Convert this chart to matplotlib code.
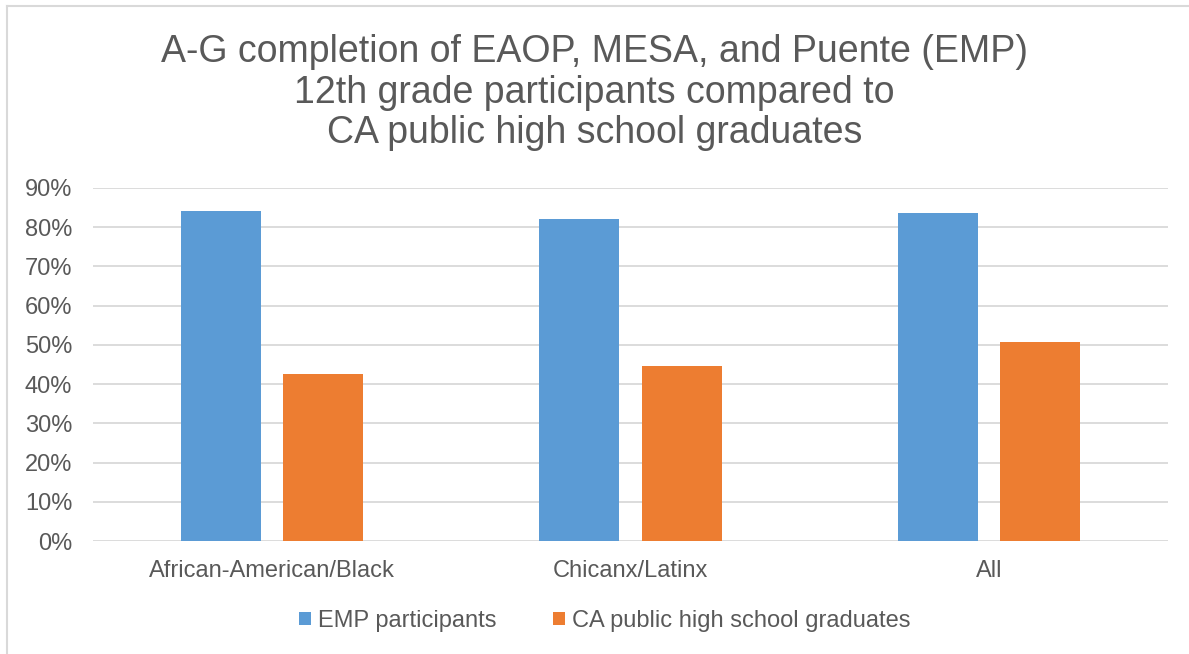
import matplotlib
matplotlib.use("Agg")
import matplotlib.pyplot as plt
from matplotlib.lines import Line2D
import numpy as np

categories = ["African-American/Black", "Chicanx/Latinx", "All"]
emp = [84.1, 82.2, 83.7]
ca = [42.5, 44.7, 50.8]
series_names = ["EMP participants", "CA public high school graduates"]
yticks = [0, 10, 20, 30, 40, 50, 60, 70, 80, 90]

plt.rcParams['font.family'] = ['Liberation Sans', 'DejaVu Sans']
txt = '#595959'
blue = '#5B9BD5'
orange = '#ED7D31'
grid = '#D9D9D9'

W, H = 1189, 654
fig = plt.figure(figsize=(W/100, H/100), dpi=100)
ax = fig.add_axes([93/W, 1-541/H, (1168-93)/W, (541-188)/H])

x = np.arange(len(categories))
bw = 0.223
off = 0.1425
ax.bar(x - off, emp, bw, color=blue, label=series_names[0], zorder=3)
ax.bar(x + off, ca, bw, color=orange, label=series_names[1], zorder=3)

ax.set_xlim(-0.5, len(categories) - 0.5)
ax.set_ylim(0, 90)
ax.set_yticks(yticks)
ax.set_yticklabels([f"{v}%" for v in yticks])
ax.set_xticks(x)
ax.set_xticklabels(categories)
ax.tick_params(axis='both', length=0, labelsize=17, colors=txt)
ax.tick_params(axis='y', pad=15)
ax.tick_params(axis='x', pad=14)
for s in ax.spines.values():
    s.set_visible(False)
ax.yaxis.grid(True, color=grid, linewidth=1.3, zorder=0)
ax.set_axisbelow(True)

tsize = 27
fig.text(0.5, 1-52/H, "A-G completion of EAOP, MESA, and Puente (EMP)", ha='center', va='center', fontsize=tsize, color=txt)
fig.text(0.5, 1-93/H, "12th grade participants compared to", ha='center', va='center', fontsize=tsize, color=txt)
fig.text(0.5, 1-133/H, "CA public high school graduates", ha='center', va='center', fontsize=tsize, color=txt)

leg = fig.legend(loc='center', bbox_to_anchor=(605/W, 1-621/H), ncol=2, frameon=False,
                 fontsize=17, handlelength=0.5, handleheight=0.5, handletextpad=0.3,
                 columnspacing=2.4)
for t in leg.get_texts():
    t.set_color(txt)

# outer chart border (top and left)
fig.add_artist(Line2D([7/W, 7/W], [0, 1-6/H], color=grid, linewidth=1.5, transform=fig.transFigure))
fig.add_artist(Line2D([7/W, 1], [1-6/H, 1-6/H], color=grid, linewidth=1.5, transform=fig.transFigure))

fig.savefig("out.png", dpi=100)
